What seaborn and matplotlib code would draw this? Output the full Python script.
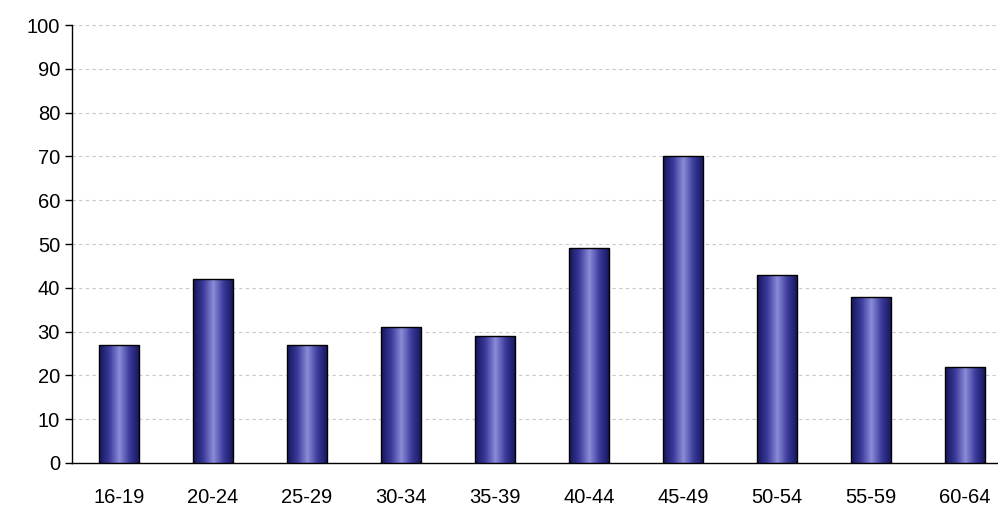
import numpy as np
import seaborn as sns
import matplotlib.pyplot as plt
from matplotlib.colors import LinearSegmentedColormap

categories = ['16-19', '20-24', '25-29', '30-34', '35-39', '40-44', '45-49', '50-54', '55-59', '60-64']
values = [27, 42, 27, 31, 29, 49, 70, 43, 38, 22]

sns.set_style("white")
plt.rcParams['font.family'] = ['Liberation Sans', 'DejaVu Sans']

fig = plt.figure(figsize=(9.98, 5.11), dpi=100)
ax = fig.add_axes([0.072, 0.094, 0.942, 0.857])

sns.barplot(x=categories, y=values, ax=ax, width=0.43, color='#2a2a80',
            edgecolor='black', linewidth=1, zorder=3)

# horizontal gradient inside each bar
cmap = LinearSegmentedColormap.from_list('bar', ['#14145a', '#3a3a9a', '#8c8cd8', '#3a3a9a', '#14145a'])
grad = np.linspace(0, 1, 256).reshape(1, -1)
for p in ax.patches:
    x0, y0, w, h = p.get_x(), p.get_y(), p.get_width(), p.get_height()
    im = ax.imshow(grad, cmap=cmap, aspect='auto', extent=[x0, x0 + w, y0, y0 + h], zorder=3.5)
    im.set_clip_path(p)
    p.set_facecolor('none')
    p.set_zorder(4)

ax.set_xlim(-0.5, len(categories) - 0.5)
ax.set_ylim(0, 100)
ax.set_yticks(range(0, 101, 10))
ax.yaxis.grid(True, linestyle=(0, (3, 3)), color='#c8c8c8', linewidth=0.8, zorder=0)
ax.set_xticks(np.arange(-0.5, len(categories), 1), minor=True)
ax.tick_params(axis='x', which='major', length=0, pad=18, labelsize=14.5, labelcolor='black')
ax.tick_params(axis='x', which='minor', length=6, color='black', width=1)
ax.tick_params(axis='y', length=5, color='black', width=1, left=True, labelsize=14.5, labelcolor='black')
for s in ['top', 'right']:
    ax.spines[s].set_visible(False)
for s in ['left', 'bottom']:
    ax.spines[s].set_color('black')
    ax.spines[s].set_linewidth(1)

fig.savefig('out.png', dpi=100)
